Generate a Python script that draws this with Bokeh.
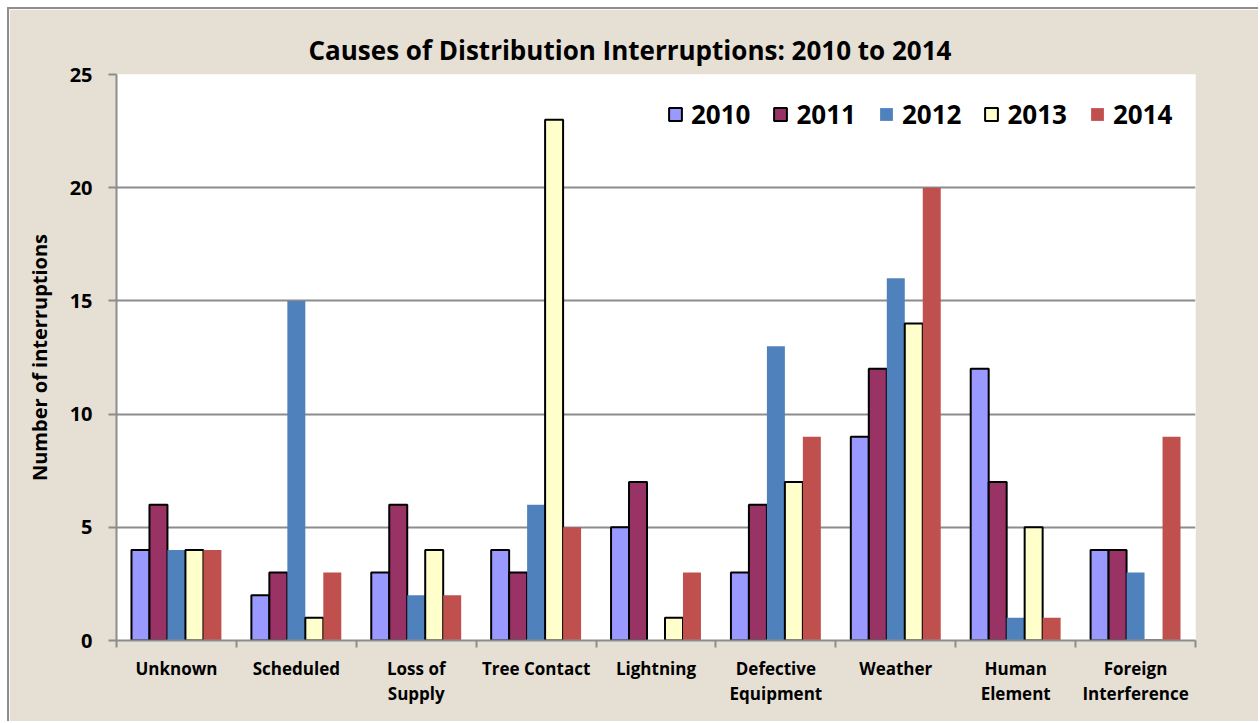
from bokeh.plotting import figure
from bokeh.models import FixedTicker, Legend, LegendItem, Range1d
from bokeh.embed import file_html
from bokeh.resources import INLINE

categories = ["Unknown", "Scheduled", "Loss of\nSupply", "Tree Contact", "Lightning",
              "Defective\nEquipment", "Weather", "Human\nElement", "Foreign\nInterference"]
years = ["2010", "2011", "2012", "2013", "2014"]
v2010 = [4, 2, 3, 4, 5, 3, 9, 12, 4]
v2011 = [6, 3, 6, 3, 7, 6, 12, 7, 4]
v2012 = [4, 15, 2, 6, 0, 13, 16, 1, 3]
v2013 = [4, 1, 4, 23, 1, 7, 14, 5, 0]
v2014 = [4, 3, 2, 5, 3, 9, 20, 1, 9]
series = [v2010, v2011, v2012, v2013, v2014]
colors = ["#9999FF", "#993366", "#4F81BD", "#FFFFCC", "#C0504D"]
outlines = ["black", "black", None, "black", None]
y_ticks = [0, 5, 10, 15, 20, 25]

FONT = "Open Sans"
BG = "#E6DFD4"
GRID = "#8C8C8C"

p = figure(width=1251, height=714, output_backend="svg", toolbar_location=None,
           x_range=Range1d(0, len(categories)), y_range=Range1d(0, 25),
           min_border_left=107, min_border_right=65, min_border_top=65, min_border_bottom=83,
           background_fill_color="white", border_fill_color=BG,
           outline_line_color=None)
p.margin = (7, 0, 0, 7)
p.styles = {"border-left": "2px solid #8E8E8E", "border-top": "2px solid #8E8E8E"}

p.title.text = "Causes of Distribution Interruptions: 2010 to 2014"
p.title.align = "left"
p.title.offset = 192
p.title.text_font = FONT
p.title.text_font_size = "26px"
p.title.text_font_style = "bold"
p.title.text_color = "black"
p.title.standoff = 14

bw = 0.15
items = []
for k, (yr, vals) in enumerate(zip(years, series)):
    xs = [i + 0.5 + (k - 2) * bw for i in range(len(categories))]
    r = p.vbar(x=xs, top=vals, bottom=0, width=bw, fill_color=colors[k],
               line_color=outlines[k], line_width=2 if outlines[k] else 0)
    items.append(LegendItem(label=yr, renderers=[r]))

leg = Legend(items=items, orientation="horizontal")
leg.background_fill_alpha = 0
leg.border_line_color = None
leg.label_text_font = FONT
leg.label_text_font_size = "26px"
leg.label_text_font_style = "bold"
leg.label_text_color = "black"
leg.glyph_width = 16
leg.glyph_height = 16
leg.label_standoff = 8
leg.spacing = 22
leg.margin = 0
leg.padding = 0
leg.location = (551, 508)
p.add_layout(leg)

p.xgrid.grid_line_color = None
p.ygrid.grid_line_color = GRID
p.ygrid.grid_line_width = 2
p.ygrid.ticker = FixedTicker(ticks=y_ticks)

p.yaxis.ticker = FixedTicker(ticks=y_ticks)
p.yaxis.axis_label = "Number of interruptions"
p.yaxis.axis_label_text_font = FONT
p.yaxis.axis_label_text_font_size = "20px"
p.yaxis.axis_label_text_font_style = "bold"
p.yaxis.axis_label_text_color = "black"
p.yaxis.axis_label_standoff = 14
p.yaxis.major_label_text_font = FONT
p.yaxis.major_label_text_font_size = "20px"
p.yaxis.major_label_text_font_style = "bold"
p.yaxis.major_label_text_color = "black"
p.yaxis.major_label_standoff = 16
p.yaxis.major_tick_out = 8
p.yaxis.major_tick_in = 0
p.yaxis.minor_tick_out = 0
p.yaxis.minor_tick_in = 0
p.yaxis.axis_line_color = GRID
p.yaxis.axis_line_width = 2
p.yaxis.major_tick_line_color = GRID
p.yaxis.major_tick_line_width = 2

centers = [i + 0.5 for i in range(len(categories))]
p.xaxis.ticker = FixedTicker(ticks=centers, minor_ticks=list(range(len(categories) + 1)))
p.xaxis.major_label_overrides = {c: lab for c, lab in zip(centers, categories)}
p.xaxis.major_label_text_font = FONT
p.xaxis.major_label_text_font_size = "17px"
p.xaxis.major_label_text_font_style = "bold"
p.xaxis.major_label_text_color = "black"
p.xaxis.major_label_text_line_height = 1.1
p.xaxis.major_label_standoff = 9
p.xaxis.major_tick_out = 0
p.xaxis.major_tick_in = 0
p.xaxis.minor_tick_out = 7
p.xaxis.minor_tick_in = 0
p.xaxis.minor_tick_line_color = GRID
p.xaxis.minor_tick_line_width = 2
p.xaxis.axis_line_color = GRID
p.xaxis.axis_line_width = 2

open("out.html", "w").write(file_html(p, INLINE))
